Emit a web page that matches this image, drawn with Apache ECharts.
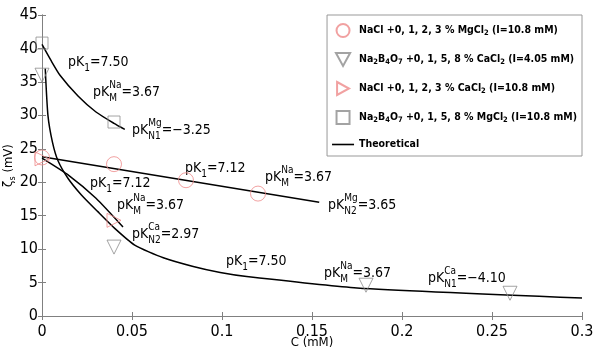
<!DOCTYPE html>
<html>
<head>
<meta charset="utf-8">
<script src="https://cdn.jsdelivr.net/npm/echarts@6/dist/echarts.min.js"></script>
<style>
html, body { margin: 0; padding: 0; background: #fff; }
#main { width: 600px; height: 355px; }
</style>
</head>
<body>
<div id="main"></div>
<script>
var FONT = '"DejaVu Sans Condensed", "DejaVu Sans", sans-serif';

// 实验数据 C (mM) / zeta (mV)
var mgNaclC = [0, 0.04, 0.08, 0.12];
var mgNaclZeta = [23.7, 22.7, 20.3, 18.3];
var caBoraxC = [0, 0.04, 0.18, 0.26];
var caBoraxZeta = [36.0, 10.3, 4.6, 3.4];
var caNaclC = [0, 0.04];
var caNaclZeta = [23.5, 14.3];
var mgBoraxC = [0, 0.04];
var mgBoraxZeta = [40.8, 29.0];

// 理论曲线
var thMgBoraxC = [0, 0.005, 0.01, 0.02, 0.03, 0.04, 0.046];
var thMgBoraxZeta = [40.6, 38.2, 36.0, 32.9, 30.5, 28.8, 27.9];
var thCaBoraxC = [0.0018, 0.0033, 0.0058, 0.0089, 0.0144, 0.0219, 0.031, 0.0404, 0.0515, 0.0674, 0.084, 0.099, 0.1137, 0.175, 0.3];
var thCaBoraxZeta = [37.0, 30.0, 26.0, 23.2, 20.6, 18.1, 15.6, 13.1, 10.6, 8.7, 7.4, 6.5, 5.9, 4.2, 2.7];
var thMgNaclC = [0, 0.154];
var thMgNaclZeta = [23.8, 17.0];
var thCaNaclC = [0, 0.015, 0.03, 0.045];
var thCaNaclZeta = [23.6, 21.0, 17.6, 13.3];

// 坐标轴
var xMin = 0, xMax = 0.3, xStep = 0.05;
var yMin = 0, yMax = 45, yStep = 5;

// 图例
var legendNames = [
    'NaCl +0, 1, 2, 3 % MgCl2 (I=10.8 mM)',
    'Na2B4O7 +0, 1, 5, 8 % CaCl2 (I=4.05 mM)',
    'NaCl +0, 1, 2, 3 % CaCl2 (I=10.8 mM)',
    'Na2B4O7 +0, 1, 5, 8 % MgCl2 (I=10.8 mM)',
    'Theoretical'
];
var legendRich = [
    '{b|NaCl +0, 1, 2, 3 % MgCl}{s|2}{b| (I=10.8 mM)}',
    '{b|Na}{s|2}{b|B}{s|4}{b|O}{s|7}{b| +0, 1, 5, 8 % CaCl}{s|2}{b| (I=4.05 mM)}',
    '{b|NaCl +0, 1, 2, 3 % CaCl}{s|2}{b| (I=10.8 mM)}',
    '{b|Na}{s|2}{b|B}{s|4}{b|O}{s|7}{b| +0, 1, 5, 8 % MgCl}{s|2}{b| (I=10.8 mM)}',
    '{b|Theoretical}'
];
var legendIcons = [
    'circle',
    'path://M0,0 L12,0 L6,11 Z',
    'path://M0,0 L11,6 L0,12 Z',
    'path://M0,0 L11,0 L11,11 L0,11 Z',
    'path://M0,0 L22,0 L22,1.6 L0,1.6 Z'
];

// 注释 pK 文本
var annos = [
    {x: 68, y: 62, sup: '', sub: '1', val: '=7.50'},
    {x: 93, y: 92, sup: 'Na', sub: 'M', val: '=3.67'},
    {x: 132, y: 130, sup: 'Mg', sub: 'N1', val: '=\u22123.25'},
    {x: 90, y: 183, sup: '', sub: '1', val: '=7.12'},
    {x: 117, y: 205, sup: 'Na', sub: 'M', val: '=3.67'},
    {x: 132, y: 234, sup: 'Ca', sub: 'N2', val: '=2.97'},
    {x: 185, y: 168, sup: '', sub: '1', val: '=7.12'},
    {x: 265, y: 177, sup: 'Na', sub: 'M', val: '=3.67'},
    {x: 328, y: 205, sup: 'Mg', sub: 'N2', val: '=3.65'},
    {x: 226, y: 261, sup: '', sub: '1', val: '=7.50'},
    {x: 324, y: 273, sup: 'Na', sub: 'M', val: '=3.67'},
    {x: 428, y: 278, sup: 'Ca', sub: 'N1', val: '=\u22124.10'}
];

function pairs(xs, ys) {
    var out = [];
    for (var i = 0; i < xs.length; i++) out.push([xs[i], ys[i]]);
    return out;
}

var RED = '#ee8a8a';
var GRAY = '#8c8c8c';

function scatter(name, xs, ys, symbol, rot, color, size) {
    return {
        name: name,
        type: 'scatter',
        xAxisIndex: 0,
        yAxisIndex: 0,
        symbol: symbol,
        symbolRotate: rot,
        symbolSize: size,
        itemStyle: {color: 'rgba(255,255,255,0)', borderColor: color, borderWidth: 1},
        data: pairs(xs, ys),
        z: 3
    };
}

function theory(xs, ys, smooth) {
    return {
        name: 'Theoretical',
        type: 'line',
        xAxisIndex: 0,
        yAxisIndex: 0,
        symbol: 'none',
        smooth: smooth,
        lineStyle: {color: '#000', width: 1.5},
        itemStyle: {color: '#000'},
        data: pairs(xs, ys),
        z: 2
    };
}

var axisCommon = {
    axisLine: {show: true, lineStyle: {color: '#808080', width: 1}},
    axisTick: {show: true, inside: true, length: 4, lineStyle: {color: '#808080'}},
    splitLine: {show: false}
};

var myChart = echarts.init(document.getElementById('main'));

var legendData = legendNames.map(function (n, i) {
    var d = {name: n, icon: legendIcons[i]};
    if (i === 4) d.itemStyle = {color: '#000', borderWidth: 0};
    return d;
});

var option = {
    animation: false,
    textStyle: {fontFamily: FONT},
    grid: {left: 42, right: 18, top: 15, bottom: 39, containLabel: false, outerBoundsMode: 'none'},
    xAxis: [
        Object.assign({
            type: 'value', position: 'bottom', min: xMin, max: xMax, interval: xStep,
            name: 'C (mM)', nameLocation: 'middle', nameGap: 20, nameMoveOverlap: false,
            nameTextStyle: {fontSize: 13, color: '#000', fontFamily: FONT, verticalAlign: 'top'},
            axisLabel: {
                fontSize: 16, color: '#000', fontFamily: FONT, margin: 8,
                formatter: function (v) { return String(+v.toFixed(2)); }
            }
        }, axisCommon),
        Object.assign({
            type: 'value', position: 'top', min: xMin, max: xMax, interval: xStep,
            axisLabel: {show: false}
        }, axisCommon)
    ],
    yAxis: [
        Object.assign({
            type: 'value', position: 'left', min: yMin, max: yMax, interval: yStep,
            name: '{z|\u03b6}{s|s}{z| (mV)}', nameLocation: 'middle', nameGap: 25, nameRotate: 90,
            nameMoveOverlap: false,
            nameTextStyle: {
                color: '#000',
                rich: {
                    z: {fontSize: 13, fontFamily: FONT, color: '#000', lineHeight: 16},
                    s: {fontSize: 9, fontFamily: FONT, color: '#000', verticalAlign: 'bottom', lineHeight: 16}
                }
            },
            axisLabel: {fontSize: 16, color: '#000', fontFamily: FONT, margin: 4}
        }, axisCommon),
        Object.assign({
            type: 'value', position: 'right', min: yMin, max: yMax, interval: yStep,
            axisLabel: {show: false}
        }, axisCommon)
    ],
    legend: {
        data: legendData,
        orient: 'vertical',
        right: 18,
        top: 15,
        padding: [8, 5, 6, 5],
        itemGap: 14,
        itemWidth: 22,
        itemHeight: 13,
        backgroundColor: '#fff',
        borderColor: '#999',
        borderWidth: 1,
        borderRadius: 0,
        z: 10,
        formatter: function (name) {
            return legendRich[legendNames.indexOf(name)];
        },
        textStyle: {
            rich: {
                b: {fontSize: 10.5, fontWeight: 'bold', fontFamily: FONT, color: '#000', lineHeight: 14},
                s: {fontSize: 7.5, fontWeight: 'bold', fontFamily: FONT, color: '#000', verticalAlign: 'bottom', lineHeight: 14}
            }
        }
    },
    series: [
        scatter(legendNames[0], mgNaclC, mgNaclZeta, 'circle', 0, RED, 15),
        scatter(legendNames[1], caBoraxC, caBoraxZeta, 'triangle', 180, GRAY, 14),
        scatter(legendNames[2], caNaclC, caNaclZeta, 'triangle', -90, RED, 14),
        scatter(legendNames[3], mgBoraxC, mgBoraxZeta, 'rect', 0, GRAY, 12),
        theory(thMgBoraxC, thMgBoraxZeta, 0.2),
        theory(thCaBoraxC, thCaBoraxZeta, 0.2),
        theory(thMgNaclC, thMgNaclZeta, false),
        theory(thCaNaclC, thCaNaclZeta, 0.2)
    ]
};

myChart.setOption(option, true);

// 注释: pK 带上下标
var ctx = document.createElement('canvas').getContext('2d');
function textW(str, size) {
    ctx.font = size + 'px ' + FONT;
    return ctx.measureText(str).width;
}
var BIG = 14, SMALL = 10;
var elements = [];
annos.forEach(function (a) {
    var w0 = textW('pK', BIG);
    var wSub = textW(a.sub, SMALL);
    var wSup = a.sup ? textW(a.sup, SMALL) : 0;
    var x1 = a.x + w0;
    var x2 = x1 + Math.max(wSub, wSup);
    var base = {fill: '#000', fontFamily: FONT, verticalAlign: 'middle', align: 'left'};
    elements.push({type: 'text', x: a.x, y: a.y, style: Object.assign({text: 'pK', fontSize: BIG}, base)});
    elements.push({type: 'text', x: x1, y: a.y + 6, style: Object.assign({text: a.sub, fontSize: SMALL}, base)});
    if (a.sup) {
        elements.push({type: 'text', x: x1, y: a.y - 7, style: Object.assign({text: a.sup, fontSize: SMALL}, base)});
    }
    elements.push({type: 'text', x: x2, y: a.y, style: Object.assign({text: a.val, fontSize: BIG}, base)});
});
myChart.setOption({graphic: {elements: elements}});
</script>
</body>
</html>
